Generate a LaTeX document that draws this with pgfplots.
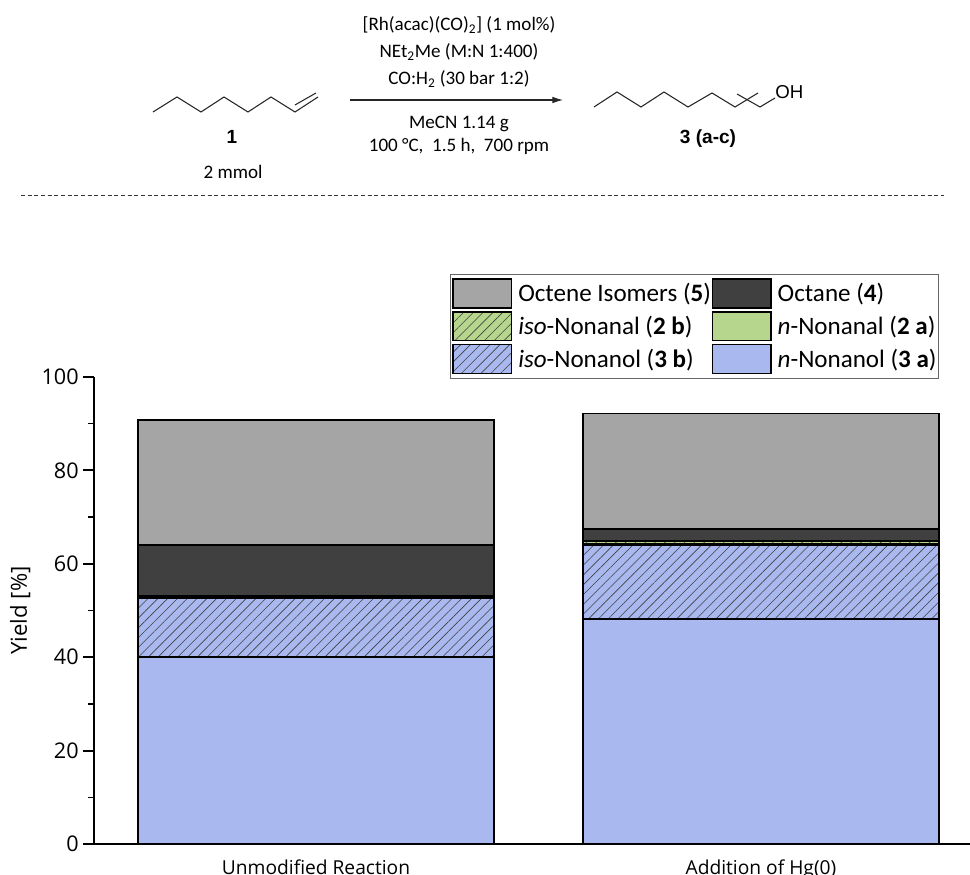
\documentclass[border=0pt]{standalone}
\usepackage{pgfplots}
\pgfplotsset{compat=1.18}
\usepackage{fontspec}
\setmainfont{Carlito}
\newfontfamily\arial{Liberation Sans}
\newfontfamily\axfont{Open Sans}
\usetikzlibrary{patterns.meta,arrows.meta}
\definecolor{cA}{HTML}{A9B9F0}
\definecolor{cB}{HTML}{B5D68C}
\definecolor{cC}{HTML}{404040}
\definecolor{cD}{HTML}{A5A5A5}
\newcommand{\fs}[1]{\fontsize{#1}{#1}\selectfont}
\tikzset{
 hatchA/.style={fill=cA,postaction={pattern={Lines[angle=45,distance=5.2pt,line width=0.45pt]},pattern color=black!75}},
 hatchB/.style={fill=cB,postaction={pattern={Lines[angle=45,distance=5.2pt,line width=0.45pt]},pattern color=black!75}},
 chain/.style={line width=0.8pt,black!85},
 rx/.style={font=\fs{14.3pt},anchor=base,inner sep=0pt}}
\pgfplotsset{
 swatch/.style={legend image code/.code={
   \draw[line width=1.1pt,#1] (0pt,-10.8pt) rectangle (44pt,10.8pt);}},
}
\begin{document}
\begin{tikzpicture}
\path[use as bounding box] (0,0) rectangle (727.5pt,655.5pt);
\begin{axis}[
 at={(70.5pt,22.5pt)},anchor=south west,
 width=657pt,height=350.25pt,scale only axis,
 xmin=-0.4989,xmax=1.4697,ymin=0,ymax=100,
 axis lines=left,
 axis line style={-,line width=1.5pt},
 ybar stacked,bar width=0.8,
 xtick={0,1},xticklabels={Unmodified Reaction,Addition of Hg(0)},
 xtick style={draw=none},
 ytick={0,20,40,60,80,100},minor ytick={10,30,50,70,90},
 major tick length=8pt,minor tick length=4.5pt,
 y tick style={line width=1.5pt,black},
 minor y tick style={line width=1.1pt,black},
 tick align=outside,
 /pgf/number format/assume math mode=true,
 yticklabel style={font=\axfont\fs{16.2pt}},
 xticklabel style={font=\axfont\fs{14.4pt}},
 ylabel={Yield [\%]},
 ylabel style={font=\axfont\fs{16.6pt},yshift=1.5pt},
 clip=false,
 legend columns=2,
 legend cell align=left,
 legend style={at={(0.9646,1.2206)},anchor=north east,font=\fs{18.8pt},
   draw=black!60,line width=0.6pt,inner ysep=3pt,inner xsep=1pt,row sep=1.9pt,
   nodes={inner xsep=0.5pt},
   /tikz/every odd column/.style={column sep=4pt}},
]
\addplot[forget plot,fill=cA,draw=black,line width=1.1pt] coordinates {(0,40.0) (1,48.2)};
\addplot[forget plot,hatchA,draw=black,line width=1.1pt] coordinates {(0,12.7) (1,15.8)};
\addplot[forget plot,fill=cB,draw=black,line width=1.1pt] coordinates {(0,0.2) (1,0.2)};
\addplot[forget plot,hatchB,draw=black,line width=1.1pt] coordinates {(0,0.2) (1,0.7)};
\addplot[forget plot,fill=cC,draw=black,line width=1.1pt] coordinates {(0,10.9) (1,2.6)};
\addplot[forget plot,fill=cD,draw=black,line width=1.1pt] coordinates {(0,26.8) (1,24.7)};
\addlegendimage{swatch={fill=cD}}
\addlegendentry{Octene Isomers (\textbf{5})}
\addlegendimage{swatch={fill=cC}}
\addlegendentry{Octane (\textbf{4})}
\addlegendimage{swatch={hatchB}}
\addlegendentry{\textit{iso}-Nonanal (\textbf{2 b})}
\addlegendimage{swatch={fill=cB}}
\addlegendentry{\textit{n}-Nonanal (\textbf{2 a})}
\addlegendimage{swatch={hatchA}}
\addlegendentry{\textit{iso}-Nonanol (\textbf{3 b})}
\addlegendimage{swatch={fill=cA}}
\addlegendentry{\textit{n}-Nonanol (\textbf{3 a})}
\end{axis}
% reaction scheme
\begin{scope}[x=0.75pt,y=-0.75pt,shift={(0pt,655.5pt)}]
\draw[chain] (153,112)--(177,97)--(201,112)--(224,97)--(248,112)--(271,97)--(295,112)--(318,97);
\draw[chain] (295,105)--(316,93);
\draw[line width=0.8pt,black!85,-{Latex[length=8pt,width=5pt]}] (350,100)--(563,100);
\draw[chain] (594,107)--(617,92)--(641,107)--(664,92)--(688,107)--(712,93)--(735,107)--(758,93);
\draw[chain] (737,94)--(760,107)--(775,98);
\node[rx] at (459,31) {[Rh(acac)(CO)\textsubscript{2}] (1 mol\%)};
\node[rx] at (459,58) {NEt\textsubscript{2}Me (M:N 1:400)};
\node[rx] at (459,85) {CO:H\textsubscript{2} (30 bar 1:2)};
\node[rx] at (459,129) {MeCN 1.14 g};
\node[rx] at (459,152) {100 °C,\ \ 1.5 h,\ \ 700 rpm};
\node[rx,font=\arial\fs{14.3pt}\bfseries] at (232,144) {1};
\node[rx] at (233,179) {2 mmol};
\node[rx,font=\arial\fs{14.3pt}\bfseries] at (708,144) {3 (a-c)};
\node[font=\arial\fs{14pt},anchor=base west,inner sep=0pt] at (775,99) {OH};
\draw[line width=0.7pt,black!80,dash pattern=on 3pt off 2pt] (21,195)--(944,195);
\end{scope}
\end{tikzpicture}
\end{document}
